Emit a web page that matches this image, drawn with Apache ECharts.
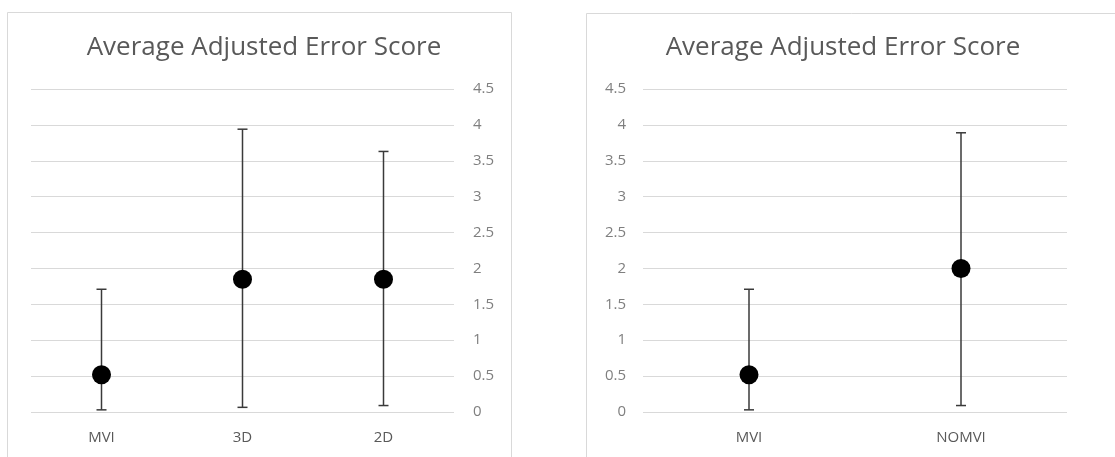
<!DOCTYPE html>
<html><head><meta charset="utf-8">
<script src="https://cdn.jsdelivr.net/npm/echarts@6/dist/echarts.min.js"></script>
<style>html,body{margin:0;padding:0;background:#fff}#c{width:1115px;height:457px}</style>
</head><body><div id="c"></div>
<script>
const titleText = "Average Adjusted Error Score";
const leftCategories = ["MVI", "3D", "2D"];
const leftMeans = [0.52, 1.85, 1.85];
const leftLows = [0.03, 0.065, 0.09];
const leftHighs = [1.71, 3.94, 3.63];
const rightCategories = ["MVI", "NOMVI"];
const rightMeans = [0.52, 2.0];
const rightLows = [0.03, 0.09];
const rightHighs = [1.71, 3.89];
const yMin = 0, yMax = 4.5, yStep = 0.5;

const chart = echarts.init(document.getElementById('c'));
const fontFam = "'Open Sans', 'Noto Sans', sans-serif";

function errSeries(idx, lows, highs) {
  return {
    type: 'custom', xAxisIndex: idx, yAxisIndex: idx, z: 2,
    data: lows.map((l, i) => [i, l, highs[i]]),
    renderItem: function (params, api) {
      const x = api.value(0);
      const lo = api.coord([x, api.value(1)]);
      const hi = api.coord([x, api.value(2)]);
      const cw = 5;
      const st = {stroke: '#3a3a3a', lineWidth: 1.5};
      return {type: 'group', children: [
        {type: 'line', shape: {x1: lo[0], y1: lo[1], x2: hi[0], y2: hi[1]}, style: st},
        {type: 'line', shape: {x1: lo[0]-cw, y1: lo[1], x2: lo[0]+cw, y2: lo[1]}, style: st},
        {type: 'line', shape: {x1: hi[0]-cw, y1: hi[1], x2: hi[0]+cw, y2: hi[1]}, style: st}
      ]};
    }
  };
}

const yAxisCommon = {
  type: 'value', min: yMin, max: yMax, interval: yStep,
  axisLine: {show: false}, axisTick: {show: false},
  axisLabel: {color: '#7f7f7f', fontSize: 15, fontFamily: fontFam},
  splitLine: {lineStyle: {color: '#d9d9d9', width: 1}}
};
const xAxisCommon = {
  type: 'category', axisLine: {show: false}, axisTick: {show: false},
  axisLabel: {color: '#595959', fontSize: 15, fontFamily: fontFam, margin: 18},
  splitLine: {show: false}
};

chart.setOption({
  animation: false,
  backgroundColor: '#fff',
  graphic: [
    {type: 'rect', shape: {x: 7.5, y: 12.5, width: 504, height: 460}, style: {fill: 'none', stroke: '#d9d9d9', lineWidth: 1}, z: -1},
    {type: 'rect', shape: {x: 586.5, y: 13.5, width: 540, height: 460}, style: {fill: 'none', stroke: '#d9d9d9', lineWidth: 1}, z: -1}
  ],
  title: [
    {text: titleText, left: 259, top: 30, textAlign: 'center',
     textStyle: {color: '#595959', fontSize: 26, fontWeight: 'normal', fontFamily: fontFam}},
    {text: titleText, left: 838, top: 30, textAlign: 'center',
     textStyle: {color: '#595959', fontSize: 26, fontWeight: 'normal', fontFamily: fontFam}}
  ],
  grid: [
    {left: 31, top: 89, width: 423, height: 323},
    {left: 643, top: 89, width: 424, height: 323}
  ],
  xAxis: [
    Object.assign({gridIndex: 0, data: leftCategories}, xAxisCommon),
    Object.assign({gridIndex: 1, data: rightCategories}, xAxisCommon)
  ],
  yAxis: [
    Object.assign({gridIndex: 0, position: 'right'}, yAxisCommon, {axisLabel: Object.assign({}, yAxisCommon.axisLabel, {margin: 19})}),
    Object.assign({gridIndex: 1, position: 'left'}, yAxisCommon, {axisLabel: Object.assign({}, yAxisCommon.axisLabel, {margin: 17})})
  ],
  series: [
    errSeries(0, leftLows, leftHighs),
    {type: 'scatter', xAxisIndex: 0, yAxisIndex: 0, data: leftMeans, symbolSize: 19, itemStyle: {color: '#000', opacity: 1}, z: 3},
    errSeries(1, rightLows, rightHighs),
    {type: 'scatter', xAxisIndex: 1, yAxisIndex: 1, data: rightMeans, symbolSize: 19, itemStyle: {color: '#000', opacity: 1}, z: 3}
  ]
});
</script></body></html>
